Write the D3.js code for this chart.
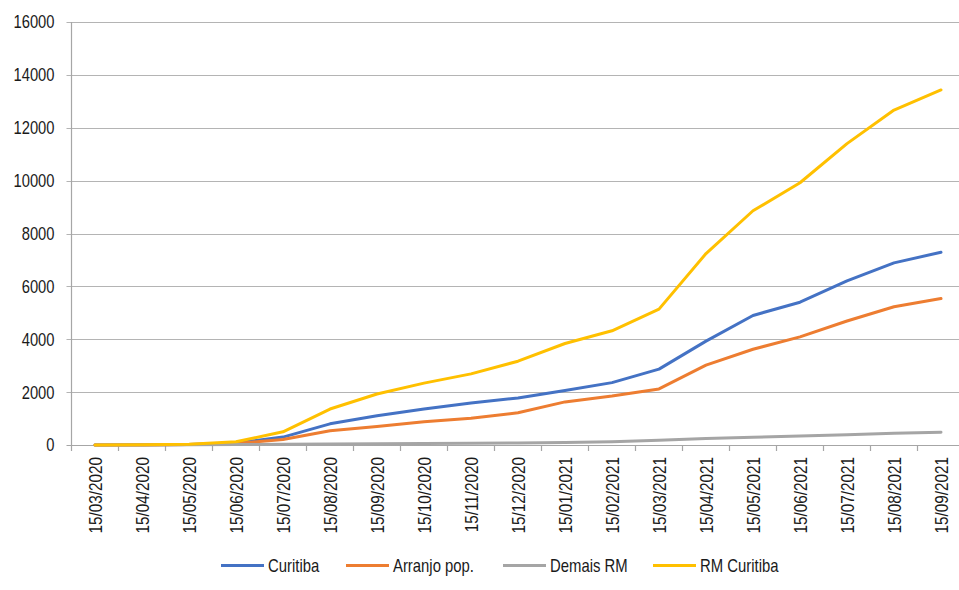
<!DOCTYPE html>
<html>
<head>
<meta charset="utf-8">
<script src="https://cdn.jsdelivr.net/npm/d3@7"></script>
<style>
  html, body { margin: 0; padding: 0; background: #fff; }
  svg { display: block; }
  text { font-family: "Liberation Sans", Arial, sans-serif; fill: #1a1a1a; }
</style>
</head>
<body>
<svg id="chart" width="959" height="590"></svg>
<script>
// Monthly cumulative series, 15/03/2020 – 15/09/2021
const categories = [
  "15/03/2020","15/04/2020","15/05/2020","15/06/2020","15/07/2020","15/08/2020",
  "15/09/2020","15/10/2020","15/11/2020","15/12/2020","15/01/2021","15/02/2021",
  "15/03/2021","15/04/2021","15/05/2021","15/06/2021","15/07/2021","15/08/2021",
  "15/09/2021"
];
const curitiba   = [0, 5, 20, 80, 300, 800, 1110, 1360, 1590, 1780, 2060, 2360, 2870, 3930, 4900, 5400, 6210, 6890, 7290];
const arranjoPop = [0, 3, 15, 60, 210, 540, 700, 880, 1010, 1220, 1630, 1850, 2120, 3020, 3620, 4090, 4690, 5230, 5540];
const demaisRM   = [0, 0, 5, 15, 25, 40, 50, 55, 65, 80, 90, 126, 180, 250, 290, 340, 390, 440, 480];
const rmCuritiba = [0, 5, 30, 120, 500, 1360, 1930, 2340, 2690, 3170, 3840, 4320, 5140, 7240, 8860, 9920, 11400, 12670, 13430];
const yTicks     = [0, 2000, 4000, 6000, 8000, 10000, 12000, 14000, 16000];

const seriesNames  = ["Curitiba", "Arranjo pop.", "Demais RM", "RM Curitiba"];
const seriesColors = ["#4472C4", "#ED7D31", "#A5A5A5", "#FFC000"];
const seriesValues = [curitiba, arranjoPop, demaisRM, rmCuritiba];

const svg = d3.select("#chart");
const plotLeft = 71.5, plotTop = 22, plotBottom = 445, bandW = 47;

const x = d3.scaleBand()
  .domain(categories)
  .range([plotLeft, plotLeft + bandW * categories.length])
  .padding(0);
const y = d3.scaleLinear().domain([0, 16000]).range([plotBottom, plotTop]);

// horizontal gridlines
svg.append("g").selectAll("line")
  .data(yTicks).join("line")
  .attr("x1", plotLeft - 5).attr("x2", 959)
  .attr("y1", d => Math.round(y(d)) + 0.5).attr("y2", d => Math.round(y(d)) + 0.5)
  .attr("stroke", d => d === 0 ? "#a6a6a6" : "#b4b4b4")
  .attr("stroke-width", 1.2);

// y axis line
svg.append("line")
  .attr("x1", plotLeft).attr("x2", plotLeft)
  .attr("y1", plotTop).attr("y2", plotBottom + 1)
  .attr("stroke", "#a6a6a6").attr("stroke-width", 1.2);

// y tick labels (condensed)
svg.append("g").selectAll("text")
  .data(yTicks).join("text")
  .attr("transform", d => `translate(${plotLeft - 17},${y(d)}) scale(0.82,1)`)
  .attr("text-anchor", "end")
  .attr("dy", "0.36em")
  .attr("font-size", 18)
  .text(d => d);

// x tick marks between categories
const tickPos = categories.map(c => x(c)).concat([x(categories[categories.length - 1]) + bandW]);
svg.append("g").selectAll("line")
  .data(tickPos).join("line")
  .attr("x1", d => d).attr("x2", d => d)
  .attr("y1", plotBottom).attr("y2", plotBottom + 6)
  .attr("stroke", "#a6a6a6").attr("stroke-width", 1.2);

// rotated category labels
svg.append("g").selectAll("text")
  .data(categories).join("text")
  .attr("transform", d => `translate(${x(d) + bandW / 2 + 1},${plotBottom + 12}) rotate(-90) scale(0.85,1)`)
  .attr("text-anchor", "end")
  .attr("dy", "0.36em")
  .attr("font-size", 18)
  .text(d => d);

// series lines
const line = d3.line()
  .x((d, i) => x(categories[i]) + bandW / 2)
  .y(d => y(d));

svg.append("g").selectAll("path")
  .data(seriesValues).join("path")
  .attr("d", d => line(d))
  .attr("fill", "none")
  .attr("stroke", (d, i) => seriesColors[i])
  .attr("stroke-width", 3)
  .attr("stroke-linejoin", "round")
  .attr("stroke-linecap", "round");

// legend
const legendX = [221, 346, 503, 653];
const leg = svg.append("g").selectAll("g")
  .data(seriesNames).join("g")
  .attr("transform", (d, i) => `translate(${legendX[i]},565.5)`);
leg.append("line")
  .attr("x1", 0).attr("x2", 43).attr("y1", 0).attr("y2", 0)
  .attr("stroke", (d, i) => seriesColors[i])
  .attr("stroke-width", 3);
leg.append("text")
  .attr("transform", "translate(47,0) scale(0.85,1)")
  .attr("dy", "0.36em")
  .attr("font-size", 17.5)
  .text(d => d);
</script>
</body>
</html>
